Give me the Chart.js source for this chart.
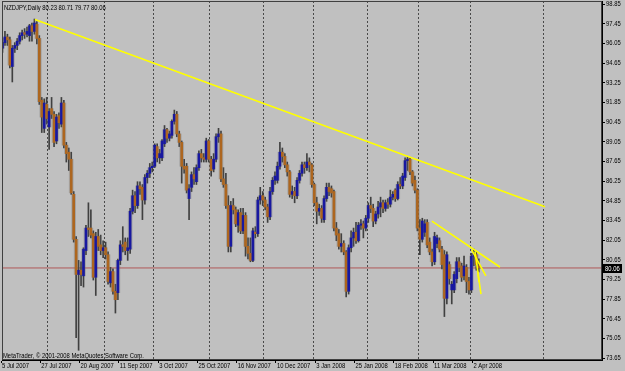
<!DOCTYPE html>
<html>
<head>
<meta charset="utf-8">
<script src="https://cdn.jsdelivr.net/npm/chart.js@4.4.0/dist/chart.umd.min.js"></script>
<style>
  html, body { margin: 0; padding: 0; background: #c0c0c0; }
</style>
</head>
<body>
<canvas id="chart" width="625" height="371"></canvas>
<script>
// NZDJPY daily, 5 Jul 2007 .. 4 Apr 2008 (bar index 0 = 5 Jul 2007)
const opens  = [95.7,96.1,96.5,96.3,94.4,95.7,95.9,96.2,96.6,96.8,96.7,96.6,97.3,96.9,97.4,96.4,92.0,90.0,91.7,90.1,
                91.4,91.0,89.1,90.9,90.3,91.8,88.8,88.3,87.8,85.3,82.1,79.6,79.9,79.5,81.3,82.9,82.9,82.5,79.4,82.3,
                81.7,81.3,81.5,81.0,79.0,79.8,78.4,78.3,80.6,81.7,81.9,81.3,81.4,84.1,85.2,84.5,85.9,85.8,84.9,86.5,
                86.8,87.2,87.3,88.7,87.9,87.9,88.9,89.9,89.3,89.5,90.5,91.0,89.6,89.0,87.3,87.3,85.0,85.8,86.7,86.2,
                87.2,88.2,87.9,87.8,89.1,87.8,87.1,87.8,89.4,89.6,86.4,86.0,84.5,81.6,84.5,84.2,83.1,84.0,82.7,83.8,
                81.6,81.1,80.6,82.6,82.5,84.9,85.2,84.9,84.4,83.7,85.5,86.3,86.3,87.3,88.3,88.0,87.4,86.9,85.3,85.5,
                85.2,86.3,86.8,87.4,87.2,87.6,87.4,86.0,84.7,84.1,84.3,83.5,85.0,85.8,85.7,85.5,82.9,82.5,81.6,81.8,
                81.2,78.4,81.5,82.2,82.6,82.0,83.1,83.2,82.9,83.6,84.5,84.3,83.4,83.9,84.4,84.7,84.3,84.7,84.6,85.1,
                85.6,85.0,86.0,85.9,86.5,87.7,87.8,86.9,86.3,85.6,82.9,82.1,82.6,83.3,81.9,81.2,80.5,81.8,82.0,81.4,
                81.0,77.9,80.3,78.5,78.5,79.3,80.5,80.2,79.5,80.1,79.1,78.5,80.9,81.0,80.23];
const highs  = [96.4,96.9,96.7,96.5,95.9,96.1,96.4,96.8,97.0,97.1,97.2,97.4,97.5,97.78,97.6,96.6,92.2,92.1,92.2,91.4,
                92.2,91.2,91.0,91.1,92.2,92.0,89.0,88.6,88.3,85.5,82.3,80.6,80.5,81.5,83.1,84.7,84.2,82.7,82.6,82.8,
                82.4,82.0,81.9,81.2,80.1,80.0,78.9,80.7,82.0,83.0,82.2,82.2,84.3,85.6,85.5,86.2,86.2,86.0,86.7,87.0,
                87.5,87.6,88.9,88.9,88.5,89.2,90.2,90.0,89.8,90.6,91.3,91.2,89.8,89.1,87.8,87.5,86.0,86.9,87.2,87.4,
                88.4,88.5,88.2,89.3,89.2,88.0,88.2,89.6,90.0,89.8,87.2,86.8,85.2,84.8,85.0,84.4,84.2,84.3,84.3,84.0,
                82.2,82.2,82.9,83.0,85.1,85.8,85.5,85.1,84.6,85.8,86.5,86.9,87.6,89.0,88.6,88.2,87.6,87.0,85.9,85.8,
                86.5,87.0,87.6,87.6,88.2,87.9,87.5,86.1,85.1,84.6,84.5,85.2,86.1,86.1,85.9,85.6,83.3,82.8,82.5,82.0,
                81.3,81.7,82.7,82.9,83.3,83.3,83.5,83.4,83.8,84.7,85.1,84.6,84.1,84.8,85.1,84.9,84.9,85.0,85.6,85.5,
                85.7,86.2,86.5,86.8,87.9,87.96,87.9,87.0,86.6,85.7,83.5,83.6,83.5,83.5,82.2,81.4,82.6,82.4,82.2,81.6,
                81.3,81.2,80.5,79.1,79.8,80.8,80.8,80.4,80.9,80.3,79.4,81.1,81.4,81.2,80.71];
const lows   = [95.4,95.9,95.9,94.3,93.3,95.4,95.6,96.0,96.3,96.4,96.5,96.2,96.2,96.7,96.0,91.7,89.7,89.7,90.3,88.5,
                90.7,88.7,88.9,90.0,90.1,88.6,87.6,87.0,85.3,81.9,75.1,74.2,78.8,78.7,81.0,82.3,82.2,79.2,78.1,81.3,
                81.0,80.8,80.7,78.9,78.7,78.2,76.85,77.8,80.3,81.2,81.0,80.6,81.1,83.9,84.0,84.3,85.3,83.5,84.6,86.1,
                86.5,86.9,87.2,87.6,87.5,87.7,88.7,89.0,89.1,89.3,90.3,89.4,88.7,86.1,86.8,85.4,83.5,85.5,86.0,86.0,
                87.0,87.6,87.6,87.6,87.6,86.6,86.9,87.6,89.0,86.2,85.8,84.3,81.2,81.2,83.9,83.0,82.6,82.5,82.5,80.9,
                80.7,80.5,80.5,82.2,82.3,84.6,84.5,84.2,83.3,83.5,85.3,86.0,86.1,87.1,87.6,87.2,86.6,85.1,85.0,84.7,
                85.0,86.1,86.6,86.8,87.0,86.9,85.8,84.5,83.2,83.8,83.3,83.3,84.8,85.2,85.1,82.7,82.0,81.4,81.2,81.0,
                78.0,78.2,81.2,81.6,81.8,81.9,82.8,82.2,82.7,83.3,84.0,83.0,83.2,83.6,83.7,84.0,84.1,84.3,84.4,84.9,
                84.8,84.9,85.7,85.7,86.3,87.0,86.7,85.9,85.4,82.7,81.0,81.9,82.3,81.5,81.0,80.2,80.3,81.5,81.2,80.0,
                76.6,77.5,78.9,77.5,78.3,79.0,79.8,79.1,79.2,78.3,78.2,78.3,80.2,79.9,79.77];
const closes = [96.1,96.5,96.3,94.5,95.7,95.9,96.2,96.6,96.8,96.7,96.9,97.3,96.9,97.5,96.4,91.9,90.8,91.8,90.7,91.2,
                91.0,89.0,90.8,90.4,91.8,88.8,88.2,87.8,85.4,82.1,79.6,79.9,79.6,81.4,82.9,82.8,82.4,79.4,82.3,81.6,
                81.3,81.5,81.0,79.1,79.8,78.4,77.8,80.6,81.7,81.6,81.3,81.5,84.1,85.2,84.5,85.9,85.7,84.9,86.5,86.8,
                87.2,87.3,88.8,87.9,88.2,89.1,89.9,89.3,89.6,90.5,91.0,89.6,89.0,87.3,87.1,85.6,85.7,86.7,86.4,87.2,
                88.2,87.9,87.8,89.1,87.8,87.0,87.8,89.4,89.6,86.4,86.0,84.5,81.6,84.5,84.2,83.2,84.0,82.7,83.8,81.6,
                81.1,80.6,82.7,82.5,84.9,85.2,84.9,84.4,83.7,85.5,86.3,86.6,87.3,88.3,88.0,87.4,86.9,85.3,85.5,85.2,
                86.3,86.8,87.4,87.2,87.6,87.4,86.0,84.7,84.1,84.3,83.6,85.0,85.8,85.5,85.4,82.9,82.4,81.6,81.8,81.2,
                78.4,81.5,82.2,82.6,82.0,83.1,83.2,82.9,83.6,84.5,84.3,83.4,83.9,84.4,84.7,84.3,84.7,84.6,85.1,85.3,
                85.0,86.0,85.9,86.6,87.7,87.8,86.9,86.1,85.6,82.9,82.1,83.4,83.2,81.7,81.2,80.5,82.3,82.2,81.4,80.3,
                77.9,81.0,79.3,78.9,79.6,80.5,80.1,79.4,80.2,79.1,78.5,80.9,81.1,80.3,80.06];

// bottom axis labels and where they sit (bar index)
const dateLabels = ['5 Jul 2007','27 Jul 2007','20 Aug 2007','11 Sep 2007','3 Oct 2007','25 Oct 2007','16 Nov 2007',
                    '10 Dec 2007','3 Jan 2008','25 Jan 2008','18 Feb 2008','11 Mar 2008','2 Apr 2008'];
const dateIdx = [0,16,32,48,64,80,96,112,128,144,160,176,192];
// dashed month separators (bar index of first bar of each month)
const monthIdx = [19,42,62,85,107,127,149,170,191,221];
// price scale labels
const priceTicks = [98.85,97.45,96.05,94.65,93.25,91.85,90.45,89.05,87.65,86.25,84.85,83.45,82.05,80.65,79.25,77.85,76.45,75.05,73.65];
// drawn trend lines: [startIdx, startPrice, endIdx, endPrice]
const trendLines = [
  [13.2, 97.74, 221.0, 84.42],
  [174.9, 83.40, 202.6, 80.13],
  [191.1, 81.34, 196.9, 79.49],
  [192.5, 81.20, 194.9, 78.20],
  [193.6, 79.80, 194.1, 79.05]
];
const header = 'NZDJPY,Daily 80.23 80.71 79.77 80.06';
const copyright = 'MetaTrader, \u00a9 2001-2008 MetaQuotes Software Corp.';

const FONT = "7.5px 'Liberation Sans', Arial, sans-serif";
const BLUE = '#1818a0';
const ORANGE = '#ad661f';
const lastClose = closes[closes.length - 1];

const wicks = closes.map((c, i) => ({ x: i, y: [lows[i], highs[i]] }));
const bodies = closes.map((c, i) => ({ x: i, y: [opens[i], c] }));
const bodyColors = closes.map((c, i) => c >= opens[i] ? BLUE : ORANGE);

const datasets = [
  { type: 'bar', data: wicks, grouped: false, barThickness: 1, backgroundColor: '#404040', borderWidth: 0, order: 4 },
  { type: 'bar', data: bodies, grouped: false, barThickness: 4, minBarLength: 2, backgroundColor: 'rgba(110,110,110,0.35)', borderWidth: 0, order: 3 },
  { type: 'bar', data: bodies, grouped: false, barThickness: 2, minBarLength: 1, backgroundColor: bodyColors, borderWidth: 0, order: 2 },
  { type: 'line', data: [{ x: -0.2, y: lastClose }, { x: 244.2, y: lastClose }], borderColor: '#b05858', borderWidth: 1, pointRadius: 0, order: 5 }
];
trendLines.forEach(t => {
  datasets.push({ type: 'line', data: [{ x: t[0], y: t[1] }, { x: t[2], y: t[3] }],
                  borderColor: '#ffff00', borderWidth: 1.6, pointRadius: 0, order: 1 });
});

// narrow MetaTrader-like text
function mtText(ctx, text, x, y, color) {
  ctx.save();
  ctx.translate(x, y);
  ctx.scale(0.78, 1);
  ctx.font = FONT;
  ctx.fillStyle = color;
  ctx.textBaseline = 'middle';
  ctx.textAlign = 'left';
  ctx.fillText(text, 0, 0);
  ctx.restore();
}

// header, copyright, axis labels, frame and last price box
const mtDecor = {
  id: 'mtDecor',
  beforeDraw(chart) {
    const ctx = chart.ctx;
    ctx.save();
    ctx.fillStyle = '#c0c0c0';
    ctx.fillRect(0, 0, chart.width, chart.height);
    ctx.restore();
  },
  afterDraw(chart) {
    const { ctx, chartArea: a, scales } = chart;
    ctx.save();
    ctx.strokeStyle = '#404040';
    ctx.lineWidth = 1;
    ctx.strokeRect(a.left + 0.5, a.top + 0.5, a.right - a.left - 1, a.bottom - a.top - 1);
    ctx.restore();

    mtText(ctx, header, 4, 7.5, '#000');
    mtText(ctx, copyright, 3, 355.5, '#000');

    dateIdx.forEach((v, k) => {
      mtText(ctx, dateLabels[k], scales.x.getPixelForValue(v - 0.6) + 1, 366, '#000');
    });
    priceTicks.forEach(v => {
      mtText(ctx, v.toFixed(2), a.right + 4, scales.y.getPixelForValue(v), '#000');
    });

    const py = Math.round(scales.y.getPixelForValue(lastClose));
    ctx.save();
    ctx.fillStyle = '#000';
    ctx.fillRect(a.right + 1, py - 4, 19, 9);
    ctx.restore();
    mtText(ctx, lastClose.toFixed(2), a.right + 3, py + 0.5, '#fff');
  }
};

new Chart(document.getElementById('chart'), {
  type: 'bar',
  data: { datasets },
  options: {
    responsive: false,
    animation: false,
    devicePixelRatio: 1,
    layout: { padding: { left: 2, top: 1, right: 0, bottom: 0 } },
    plugins: { legend: { display: false }, tooltip: { enabled: false } },
    scales: {
      x: {
        type: 'linear', position: 'bottom', min: -0.2, max: 244.2, offset: false,
        afterBuildTicks: s => { s.ticks = dateIdx.map(v => ({ value: v - 0.6 })); },
        afterFit: s => { s.height = 11; },
        grid: { drawOnChartArea: false, drawTicks: true, tickLength: 3, color: '#000', offset: false },
        border: { color: '#000' },
        ticks: { display: false }
      },
      xg: {
        type: 'linear', position: 'top', min: -0.2, max: 244.2, offset: false,
        afterBuildTicks: s => { s.ticks = monthIdx.map(v => ({ value: v - 0.5 })); },
        afterFit: s => { s.height = 0; },
        grid: { drawOnChartArea: true, drawTicks: false, color: '#4a4a4a', lineWidth: 1, offset: false },
        border: { display: false, dash: [2, 2] },
        ticks: { display: false }
      },
      y: {
        type: 'linear', position: 'right', min: 73.508, max: 99.064,
        afterBuildTicks: s => { s.ticks = priceTicks.map(v => ({ value: v })); },
        afterFit: s => { s.width = 23; },
        grid: { drawOnChartArea: false, drawTicks: true, tickLength: 3, color: '#000' },
        border: { color: '#000' },
        ticks: { display: false }
      }
    }
  },
  plugins: [mtDecor]
});
</script>
</body>
</html>
